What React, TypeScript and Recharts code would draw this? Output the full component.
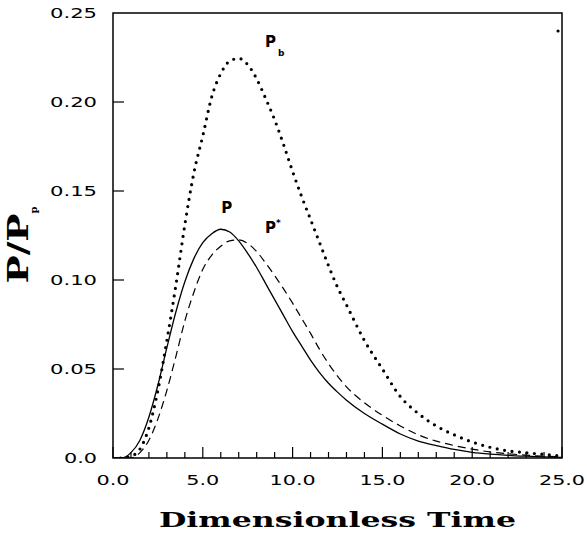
import React from 'react';
import { LineChart, Line, XAxis, YAxis, ReferenceArea, ReferenceDot, Label } from 'recharts';

const times = [0, 0.5, 1, 1.5, 2, 2.5, 3, 3.5, 4, 4.5, 5, 5.5, 6, 6.5, 7, 7.5, 8, 8.5, 9, 9.5, 10, 10.5, 11, 11.5, 12, 12.5, 13, 14, 15, 16, 17, 18, 19, 20, 21, 22, 23, 24, 25];
const pValues = [0, 0, 0.003, 0.010, 0.023, 0.041, 0.062, 0.082, 0.099, 0.112, 0.121, 0.126, 0.1285, 0.127, 0.122, 0.115, 0.107, 0.098, 0.089, 0.080, 0.071, 0.063, 0.055, 0.048, 0.042, 0.037, 0.0325, 0.025, 0.019, 0.0135, 0.0095, 0.007, 0.0048, 0.0032, 0.0022, 0.0015, 0.001, 0.0006, 0.0004];
const pStarValues = [0, 0, 0, 0.003, 0.010, 0.022, 0.038, 0.057, 0.077, 0.093, 0.106, 0.114, 0.119, 0.122, 0.1225, 0.1205, 0.116, 0.1095, 0.1025, 0.095, 0.087, 0.0785, 0.070, 0.061, 0.053, 0.046, 0.040, 0.031, 0.024, 0.018, 0.013, 0.0095, 0.007, 0.005, 0.0034, 0.0024, 0.0016, 0.001, 0.0006];
const pbValues = [0, 0, 0.001, 0.005, 0.017, 0.038, 0.066, 0.097, 0.131, 0.160, 0.181, 0.203, 0.216, 0.223, 0.2245, 0.221, 0.213, 0.202, 0.190, 0.176, 0.161, 0.147, 0.134, 0.121, 0.108, 0.096, 0.086, 0.066, 0.050, 0.0345, 0.025, 0.018, 0.013, 0.009, 0.006, 0.004, 0.003, 0.002, 0.001];

const xTicks = Array.from({ length: 26 }, (_, i) => i);
const yTicks = [0, 0.05, 0.1, 0.15, 0.2, 0.25];
const yTickLabels = ['0.0', '0.05', '0.10', '0.15', '0.20', '0.25'];

const data = times.map((t, i) => ({ t, p: pValues[i], pStar: pStarValues[i], pb: pbValues[i] }));

const tickFont = { fontFamily: '"DejaVu Sans", sans-serif', fontSize: 14, fill: '#000' };

const XTick = (props: any) => {
  const { x, y, payload } = props;
  const v = payload.value as number;
  const major = Math.abs(v % 5) < 1e-9;
  const label = v.toFixed(1);
  return (
    <g>
      <line x1={x} x2={x} y1={y} y2={y - (major ? 11 : 6)} stroke="#000" strokeWidth={1.2} />
      {major && (
        <text x={x} y={y + 27} textAnchor="middle" textLength={label.length === 3 ? 33 : 46} lengthAdjust="spacingAndGlyphs" {...tickFont}>
          {label}
        </text>
      )}
    </g>
  );
};

const YTick = (props: any) => {
  const { x, y, payload } = props;
  const v = payload.value as number;
  const label = yTickLabels[yTicks.indexOf(v)] ?? String(v);
  return (
    <g>
      {v > 0 && v < 0.25 && <line x1={x} x2={x + 11} y1={y} y2={y} stroke="#000" strokeWidth={1.2} />}
      <text x={x - 16} y={y + 5} textAnchor="end" textLength={label.length === 3 ? 33 : 47} lengthAdjust="spacingAndGlyphs" {...tickFont}>
        {label}
      </text>
    </g>
  );
};

const annotFont = { fontFamily: '"DejaVu Sans", sans-serif', fontWeight: 'bold' as const, fill: '#000' };

const AnnotP = (props: any) => {
  const { viewBox } = props;
  return <text x={viewBox.x} y={viewBox.y} textAnchor="middle" fontSize={15} {...annotFont}>P</text>;
};
const AnnotPStar = (props: any) => {
  const { viewBox } = props;
  return (
    <text x={viewBox.x} y={viewBox.y} textAnchor="start" fontSize={15} {...annotFont}>
      P<tspan fontSize={9} dy={-7}>*</tspan>
    </text>
  );
};
const AnnotPb = (props: any) => {
  const { viewBox } = props;
  return (
    <text x={viewBox.x} y={viewBox.y} textAnchor="start" fontSize={15} {...annotFont}>
      P<tspan fontSize={9} dx={2} dy={9}>b</tspan>
    </text>
  );
};

const XTitle = (props: any) => {
  const { viewBox } = props;
  const cx = viewBox.x + viewBox.width / 2;
  return (
    <text x={cx} y={viewBox.y + 69} textAnchor="middle" textLength={357} lengthAdjust="spacingAndGlyphs"
      fontFamily='"DejaVu Serif", serif' fontWeight="bold" fontSize={21} fill="#000">
      Dimensionless Time
    </text>
  );
};

const YTitle = () => {
  const x = 28;
  const y = 245;
  return (
    <text x={x} y={y} transform={`rotate(-90, ${x}, ${y})`} textAnchor="middle"
      fontFamily='"DejaVu Serif", serif' fontWeight="bold" fontSize={27} fill="#000">
      <tspan textLength={70} lengthAdjust="spacingAndGlyphs">P/P</tspan>
      <tspan fontSize={10} dy={9}>p</tspan>
    </text>
  );
};

export default function App() {
  return (
    <div style={{ position: 'absolute', left: 0, top: 0, width: 587, height: 534 }}>
      <LineChart width={587} height={534} data={data} margin={{ top: 13, right: 25, left: 0, bottom: 0 }}>
        <XAxis dataKey="t" type="number" domain={[0, 25]} ticks={xTicks} interval={0} tickSize={0} tickMargin={0}
          tick={<XTick />} axisLine={false} height={76} allowDataOverflow>
          <Label content={<XTitle />} />
        </XAxis>
        <YAxis type="number" domain={[0, 0.25]} ticks={yTicks} interval={0} tickSize={0} tickMargin={0}
          tick={<YTick />} axisLine={false} width={113} allowDataOverflow>
          <Label content={<YTitle />} />
        </YAxis>
        <ReferenceArea x1={0} x2={25} y1={0} y2={0.25} fill="none" stroke="#000" strokeWidth={1.5} fillOpacity={0} />
        <Line type="monotone" dataKey="pb" stroke="#000" strokeWidth={3.2} strokeDasharray="0 7.5" strokeLinecap="round" dot={false} isAnimationActive={false} />
        <Line type="monotone" dataKey="pStar" stroke="#000" strokeWidth={1.2} strokeDasharray="8 5" dot={false} isAnimationActive={false} />
        <Line type="monotone" dataKey="p" stroke="#000" strokeWidth={1.3} dot={false} isAnimationActive={false} />
        <ReferenceDot x={6.33} y={0.1376} r={0} fill="none" stroke="none" label={<AnnotP />} />
        <ReferenceDot x={8.46} y={0.1264} r={0} fill="none" stroke="none" label={<AnnotPStar />} />
        <ReferenceDot x={8.46} y={0.2309} r={0} fill="none" stroke="none" label={<AnnotPb />} />
        <ReferenceDot x={24.78} y={0.2399} r={1.6} fill="#000" stroke="none" />
      </LineChart>
    </div>
  );
}
